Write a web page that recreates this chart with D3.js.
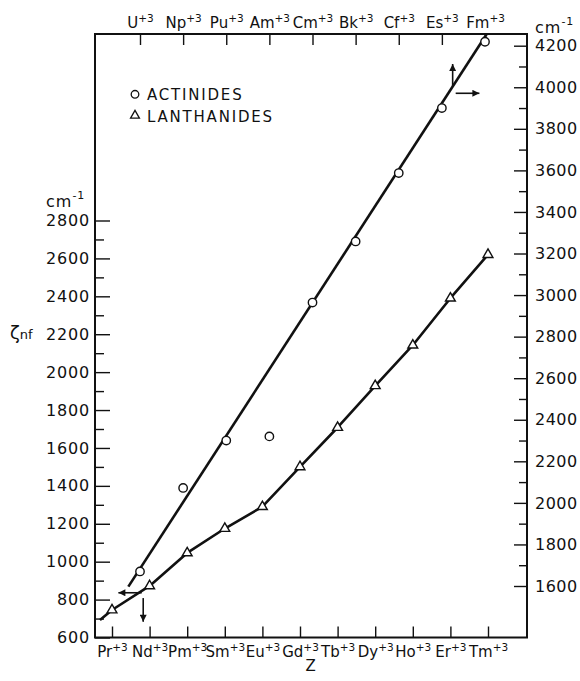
<!DOCTYPE html>
<html><head><meta charset="utf-8">
<script src="https://cdn.jsdelivr.net/npm/d3@7"></script>
<style>
body{margin:0;background:#fff}
svg{display:block}
text{font-family:"DejaVu Sans",sans-serif;fill:#111}
</style>
</head><body>
<svg id="c" width="580" height="681"></svg>
<script>
// ---- data ----
const lanthanides = ["Pr","Nd","Pm","Sm","Eu","Gd","Tb","Dy","Ho","Er","Tm"];
const lanZ = [59,60,61,62,63,64,65,66,67,68,69];
const lanValues = [745, 872, 1046, 1175, 1290, 1500, 1708, 1928, 2142, 2390, 2620];
const lanLineStart = [58.68, 692];

const actinides = ["U","Np","Pu","Am","Cm","Bk","Cf","Es","Fm"];
const actZ = [92,93,94,95,96,97,98,99,100];
const actValues = [1670, 2072, 2300, 2320, 2964, 3258, 3587, 3900, 4219];
const actLine = [[91.73, 1597],[100.04, 4256]];

const leftTicks = [600,800,1000,1200,1400,1600,1800,2000,2200,2400,2600,2800];
const leftMinor = [700,900,1100,1300,1500,1700,1900,2100,2300,2500,2700];
const rightTicks = [1600,1800,2000,2200,2400,2600,2800,3000,3200,3400,3600,3800,4000,4200];
const rightMinor = [1700,1900,2100,2300,2500,2700,2900,3100,3300,3500,3700,3900,4100];

// arrows: [x start, y start, x end, y end] in axis units
const lanArrows = [[59.79, 836, 59.17, 836],[59.83, 808, 59.83, 683]];
const actArrows = [[99.25, 4006, 99.25, 4112],[99.32, 3971, 99.87, 3971]];

// ---- layout ----
const L=95, R=527, T=34, B=637.5;
const svg = d3.select("#c");

const xLan = d3.scaleLinear().domain([59,69]).range([112,488]);
const xAct = d3.scaleLinear().domain([92,100]).range([140,485]);
const yL = d3.scaleLinear().domain([600,2800]).range([637.5,220.5]);
const yR = d3.scaleLinear().domain([1600,4200]).range([586,45.7]);
const fmt = d3.format("d");

function sup(sel, names){
  sel.selectAll(".tick text").each(function(d,i){
    const t=d3.select(this); t.text(null);
    t.append("tspan").text(names[i]);
    t.append("tspan").attr("font-size",10.5).attr("dy",-6).text("+3");
  });
}

// left axis
const gl = svg.append("g").attr("transform",`translate(${L},0)`)
  .call(d3.axisLeft(yL).tickValues(leftTicks).tickFormat(fmt).tickSizeInner(-15).tickSizeOuter(0).tickPadding(5));
gl.selectAll("text").attr("font-size",16).attr("letter-spacing",0.8);
svg.append("g").attr("transform",`translate(${L},0)`)
  .call(d3.axisLeft(yL).tickValues(leftMinor).tickSizeInner(-9).tickSizeOuter(0).tickFormat(""));

// right axis
const gr = svg.append("g").attr("transform",`translate(${R},0)`)
  .call(d3.axisRight(yR).tickValues(rightTicks).tickFormat(fmt).tickSizeInner(-13).tickSizeOuter(0).tickPadding(8));
gr.selectAll("text").attr("font-size",16).attr("letter-spacing",0.5);
svg.append("g").attr("transform",`translate(${R},0)`)
  .call(d3.axisRight(yR).tickValues(rightMinor).tickSizeInner(-8).tickSizeOuter(0).tickFormat(""));

// top axis (actinides)
const gt = svg.append("g").attr("transform",`translate(0,${T})`)
  .call(d3.axisTop(xAct).tickValues(actZ).tickSizeInner(-11).tickSizeOuter(0).tickPadding(6));
gt.selectAll("text").attr("font-size",15);
sup(gt, actinides);

// bottom axis (lanthanides)
const gb = svg.append("g").attr("transform",`translate(0,${B})`)
  .call(d3.axisBottom(xLan).tickValues(lanZ).tickSizeInner(-11).tickSizeOuter(0).tickPadding(8.5));
gb.selectAll("text").attr("font-size",15);
sup(gb, lanthanides);

svg.selectAll(".domain").remove();
svg.selectAll(".tick line").attr("stroke","#111").attr("stroke-width",1.4);

// frame
svg.append("rect").attr("x",L).attr("y",T).attr("width",R-L).attr("height",B-T)
  .attr("fill","none").attr("stroke","#111").attr("stroke-width",2);

// unit labels
const cl = svg.append("text").attr("x",46).attr("y",207).attr("font-size",16).attr("letter-spacing",1);
cl.append("tspan").text("cm");
cl.append("tspan").attr("font-size",11).attr("dy",-8).text("-1");
const cr = svg.append("text").attr("x",535).attr("y",33).attr("font-size",16).attr("letter-spacing",1);
cr.append("tspan").text("cm");
cr.append("tspan").attr("font-size",11).attr("dy",-8).text("-1");

const zl = svg.append("text").attr("x",10).attr("y",339).attr("font-size",18);
zl.append("tspan").text("ζ");
zl.append("tspan").attr("font-size",13).attr("dy",0).text("nf");

svg.append("text").attr("x",310.7).attr("y",671).attr("text-anchor","middle").attr("font-size",15).text("Z");

// lines
const lanLine = d3.line().x(d=>xLan(d[0])).y(d=>yL(d[1]));
const lanPts = [lanLineStart].concat(lanZ.map((z,i)=>[z,lanValues[i]]));
svg.append("path").attr("d",lanLine(lanPts)).attr("fill","none").attr("stroke","#111").attr("stroke-width",2.6).attr("stroke-linejoin","round");

const actL = d3.line().x(d=>xAct(d[0])).y(d=>yR(d[1]));
svg.append("path").attr("d",actL(actLine)).attr("fill","none").attr("stroke","#111").attr("stroke-width",2.6);

// markers
svg.append("g").selectAll("path").data(lanZ).join("path")
  .attr("transform",(z,i)=>`translate(${xLan(z)},${yL(lanValues[i])})`)
  .attr("d",d3.symbol(d3.symbolTriangle,42)())
  .attr("fill","#fff").attr("stroke","#111").attr("stroke-width",1.4);

svg.append("g").selectAll("circle").data(actZ).join("circle")
  .attr("cx",z=>xAct(z)).attr("cy",(z,i)=>yR(actValues[i])).attr("r",4.2)
  .attr("fill","#fff").attr("stroke","#111").attr("stroke-width",1.4);

// arrows
const defs = svg.append("defs");
defs.append("marker").attr("id","ah").attr("viewBox","0 0 10 10").attr("refX",10).attr("refY",5)
  .attr("markerWidth",8).attr("markerHeight",7).attr("markerUnits","userSpaceOnUse").attr("orient","auto")
  .append("path").attr("d","M0,0 L10,5 L0,10 Z").attr("fill","#111");
function arrows(data, xs, ys){
  svg.append("g").selectAll("line").data(data).join("line")
    .attr("x1",d=>xs(d[0])).attr("y1",d=>ys(d[1])).attr("x2",d=>xs(d[2])).attr("y2",d=>ys(d[3]))
    .attr("stroke","#111").attr("stroke-width",1.6).attr("marker-end","url(#ah)");
}
arrows(lanArrows, xLan, yL);
arrows(actArrows, xAct, yR);

// legend
svg.append("circle").attr("cx",135).attr("cy",94.3).attr("r",3.8).attr("fill","#fff").attr("stroke","#111").attr("stroke-width",1.3);
svg.append("path").attr("transform","translate(135,115.5)").attr("d",d3.symbol(d3.symbolTriangle,34)())
  .attr("fill","#fff").attr("stroke","#111").attr("stroke-width",1.3);
svg.append("text").attr("x",147).attr("y",100).attr("font-size",15).attr("letter-spacing",1.8).text("ACTINIDES");
svg.append("text").attr("x",147).attr("y",121.5).attr("font-size",15).attr("letter-spacing",1.8).text("LANTHANIDES");
</script>
</body></html>
